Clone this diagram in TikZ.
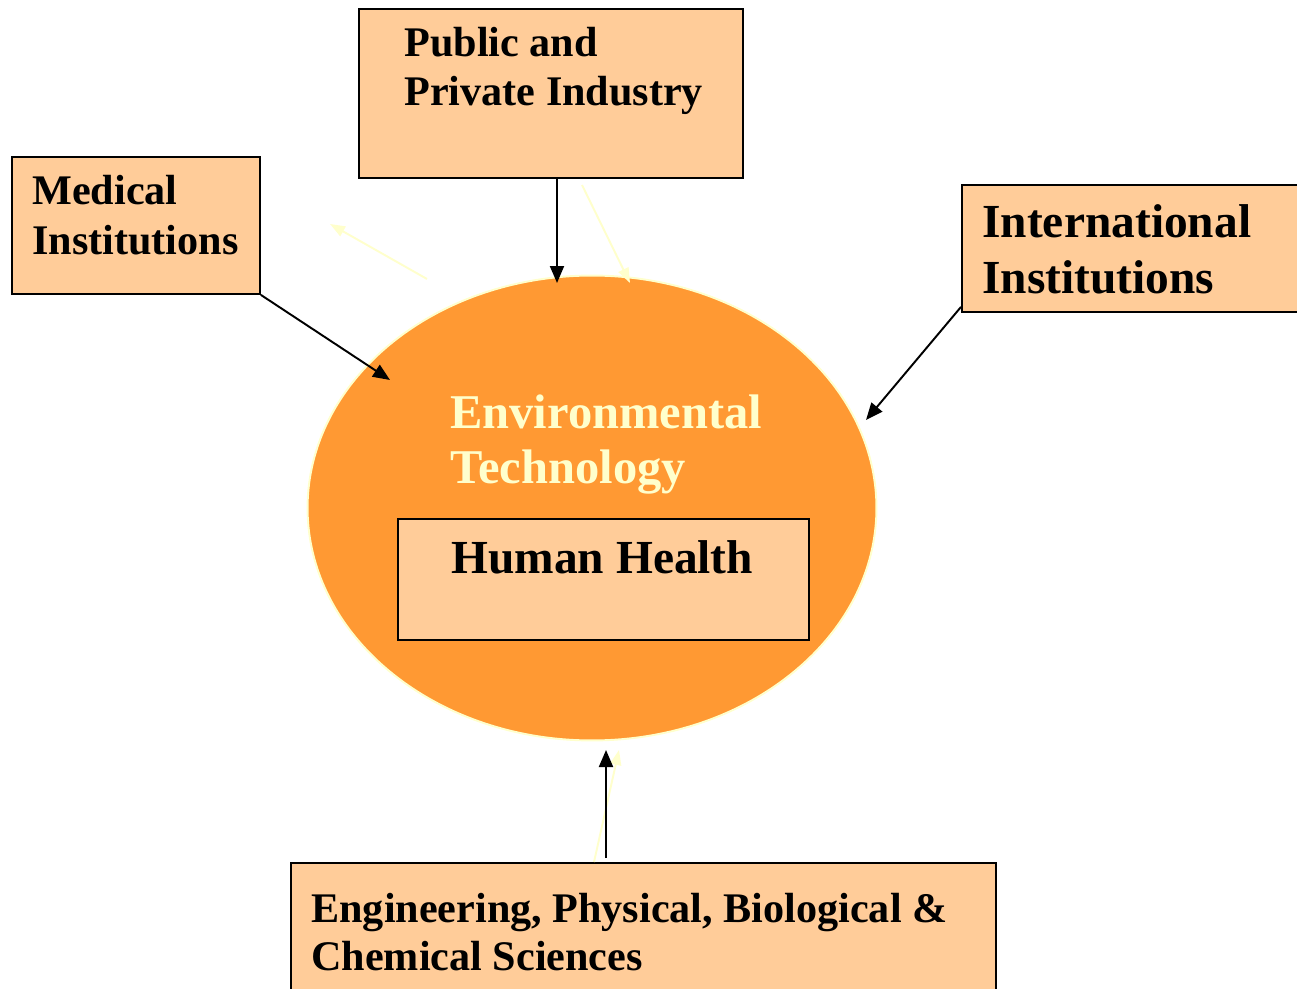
\documentclass[tikz,border=0pt]{standalone}
\usepackage{fontspec}
\setmainfont{Liberation Serif}
\usetikzlibrary{shapes.geometric,arrows.meta,positioning}
\definecolor{peach}{HTML}{FFCC99}
\definecolor{orangefill}{HTML}{FF9933}
\definecolor{paleyellow}{HTML}{FFFFCC}
\tikzset{
  box/.style={draw=black,fill=peach,line width=1.1pt,inner sep=0pt,anchor=north west},
  lbl/.style={anchor=base west,align=left,inner sep=0pt,font=\bfseries\fontsize{24}{28}\selectfont},
  link/.style={line width=1.1pt,-{Triangle[length=0.34cm,width=0.28cm]}},
  ghost/.style={paleyellow,line width=1.1pt,-{Triangle[length=0.3cm,width=0.22cm]}}
}
\begin{document}
\begin{tikzpicture}[x=0.02cm,y=-0.02cm]
  \useasboundingbox[fill=white] (0,0) rectangle (1297,989);
  % centre
  \node[ellipse,draw=paleyellow,line width=1.1pt,fill=orangefill,minimum width=11.38cm,minimum height=9.3cm] (env) at (592,508) {};
  \node[lbl,text=paleyellow,font=\bfseries\fontsize{27.6}{31}\selectfont] (envtext) at (450,483) {Environmental\\Technology};
  \node[box,minimum width=8.22cm,minimum height=2.42cm] (health) at (397,518) {};
  \node[lbl,font=\bfseries\fontsize{27}{28}\selectfont] (healthtext) at (451,573) {Human Health};
  % outer boxes
  \node[box,minimum width=7.68cm,minimum height=3.38cm] (pub) at (358,8) {};
  \node[lbl] (pubtext) at (404,106) {Public and\\Private Industry};
  \node[box,minimum width=4.96cm,minimum height=2.74cm] (med) at (11,156) {};
  \node[lbl,font=\bfseries\fontsize{24}{28.5}\selectfont] (medtext) at (32,255) {Medical\\Institutions};
  \node[box,minimum width=6.8cm,minimum height=2.54cm] (intl) at (961,184) {};
  \node[lbl,font=\bfseries\fontsize{27}{31.9}\selectfont] (intltext) at (982,294) {International\\Institutions};
  \node[box,minimum width=14.1cm,minimum height=3cm] (sci) at (290,862) {};
  \node[lbl,font=\bfseries\fontsize{24}{27.3}\selectfont] (scitext) at (311,970) {Engineering, Physical, Biological \&\\Chemical Sciences};
  % arrow ends
  \coordinate (pubtip) at (557,283);
  \coordinate (medtip) at (390,380);
  \coordinate (intltip) at (866,420);
  \coordinate (scitip) at (606,750);
  \coordinate (scifoot) at (606,858);
  \coordinate (ghostA) at (427,279);
  \coordinate (ghostAtip) at (330,224);
  \coordinate (ghostB) at (582,185);
  \coordinate (ghostBtip) at (630,283);
  \coordinate (ghostC) at (594,862);
  \coordinate (ghostCtip) at (619,750);
  % faint arrows
  \draw[ghost] (ghostA) -- (ghostAtip);
  \draw[ghost] (ghostB) -- (ghostBtip);
  \draw[ghost] (ghostC) -- (ghostCtip);
  % connectors
  \draw[link] (pub.south -| pubtip) -- (pubtip);
  \draw[link] (med.south east) -- (medtip);
  \draw[link] (intl.south west) ++(0,-6) -- (intltip);
  \draw[link] (scifoot) -- (scitip);
\end{tikzpicture}
\end{document}
